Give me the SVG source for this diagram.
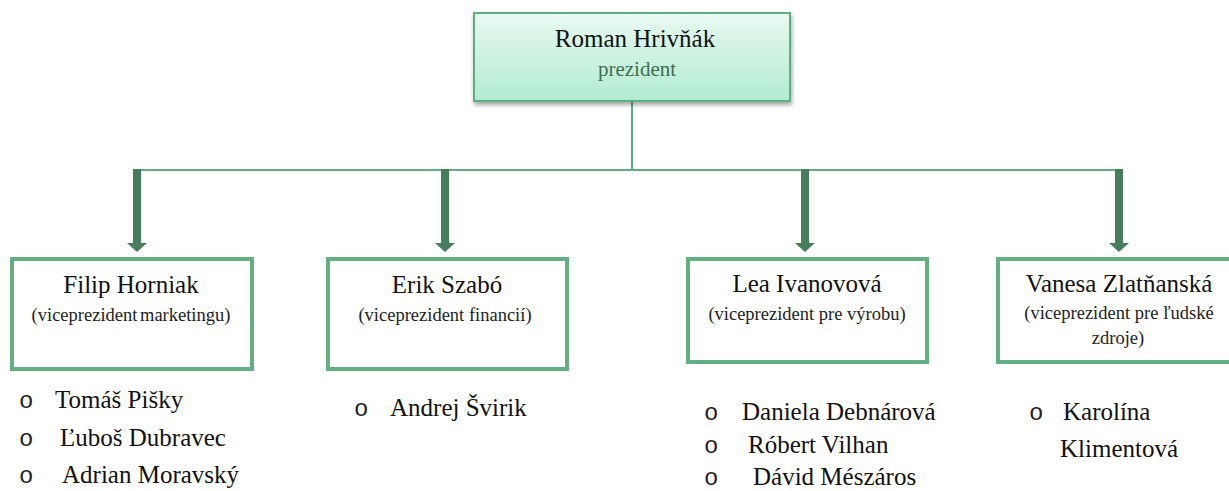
<svg xmlns="http://www.w3.org/2000/svg" width="1229" height="491" viewBox="0 0 1229 491">
<style>
.box{fill:#ffffff;stroke:#64ae84;stroke-width:4}
.name{font-family:"Liberation Serif","Times New Roman",serif;font-size:25px;fill:#111;text-anchor:middle}
.sub{font-family:"Liberation Serif","Times New Roman",serif;font-size:18.5px;fill:#222;text-anchor:middle}
.item{font-family:"Liberation Serif","Times New Roman",serif;font-size:25px;fill:#111}
.bul{font-family:"Liberation Mono","Courier New",monospace;font-size:24px;fill:#222}
.line{stroke:#5fae82;stroke-width:2;fill:none}
.arrow{fill:#477d5c}
</style>
<defs>
<linearGradient id="topfill" x1="0" y1="0" x2="0" y2="1">
<stop offset="0" stop-color="#e9f9f1"/>
<stop offset="1" stop-color="#b2ebd1"/>
</linearGradient>
<filter id="shadow" x="-10%" y="-10%" width="120%" height="130%">
<feDropShadow dx="1" dy="3" stdDeviation="2" flood-color="#000" flood-opacity="0.35"/>
</filter>
</defs>
<g id="connectors">
<line class="line" x1="632" y1="101" x2="632" y2="170"/>
<line class="line" x1="137" y1="170" x2="1120" y2="170"/>
<g class="arrow">
<rect x="133" y="169" width="8" height="75"/>
<polygon points="127,243 147,243 137,252"/>
<rect x="441" y="169" width="8" height="75"/>
<polygon points="435,243 455,243 445,252"/>
<rect x="801" y="169" width="8" height="75"/>
<polygon points="795,243 815,243 805,252"/>
<rect x="1115" y="169" width="8" height="75"/>
<polygon points="1109,243 1129,243 1119,252"/>
</g>
</g>
<g id="president">
<rect x="474" y="13" width="316" height="88" fill="url(#topfill)" stroke="#5fae82" stroke-width="2" filter="url(#shadow)"/>
<text class="name" x="635" y="47">Roman Hrivňák</text>
<text x="637" y="76" font-family="Liberation Serif, Times New Roman, serif" font-size="21" fill="#3e6e52" text-anchor="middle">prezident</text>
</g>
<g id="horniak">
<rect class="box" x="12" y="259" width="240" height="110"/>
<text class="name" x="131" y="293">Filip Horniak</text>
<text class="sub" x="131" y="321" word-spacing="-2">(viceprezident marketingu)</text>
</g>
<g id="szabo">
<rect class="box" x="328" y="259" width="239" height="110"/>
<text class="name" x="447" y="293">Erik Szabó</text>
<text class="sub" x="445" y="321">(viceprezident financií)</text>
</g>
<g id="ivanovova">
<rect class="box" x="688" y="259" width="239" height="103"/>
<text class="name" x="807" y="292">Lea Ivanovová</text>
<text class="sub" x="807" y="320">(viceprezident pre výrobu)</text>
</g>
<g id="zlatnanska">
<rect class="box" x="998" y="259" width="244" height="103"/>
<text class="name" x="1119" y="292">Vanesa Zlatňanská</text>
<text class="sub" x="1119" y="319">(viceprezident pre ľudské</text>
<text class="sub" x="1118" y="344">zdroje)</text>
</g>
<g id="list-horniak">
<text class="bul" x="19" y="408">o</text>
<text class="item" x="55" y="408">Tomáš Pišky</text>
<text class="bul" x="19" y="446">o</text>
<text class="item" x="60" y="446">Ľuboš Dubravec</text>
<text class="bul" x="19" y="483">o</text>
<text class="item" x="62" y="483">Adrian Moravský</text>
</g>
<g id="list-szabo">
<text class="bul" x="354" y="416">o</text>
<text class="item" x="390" y="416">Andrej Švirik</text>
</g>
<g id="list-ivanovova">
<text class="bul" x="704" y="420">o</text>
<text class="item" x="742" y="420">Daniela Debnárová</text>
<text class="bul" x="704" y="453">o</text>
<text class="item" x="748" y="453">Róbert Vilhan</text>
<text class="bul" x="704" y="485">o</text>
<text class="item" x="753" y="485">Dávid Mészáros</text>
</g>
<g id="list-zlatnanska">
<text class="bul" x="1029" y="420">o</text>
<text class="item" x="1063" y="420">Karolína</text>
<text class="item" x="1060" y="457">Klimentová</text>
</g>
</svg>
